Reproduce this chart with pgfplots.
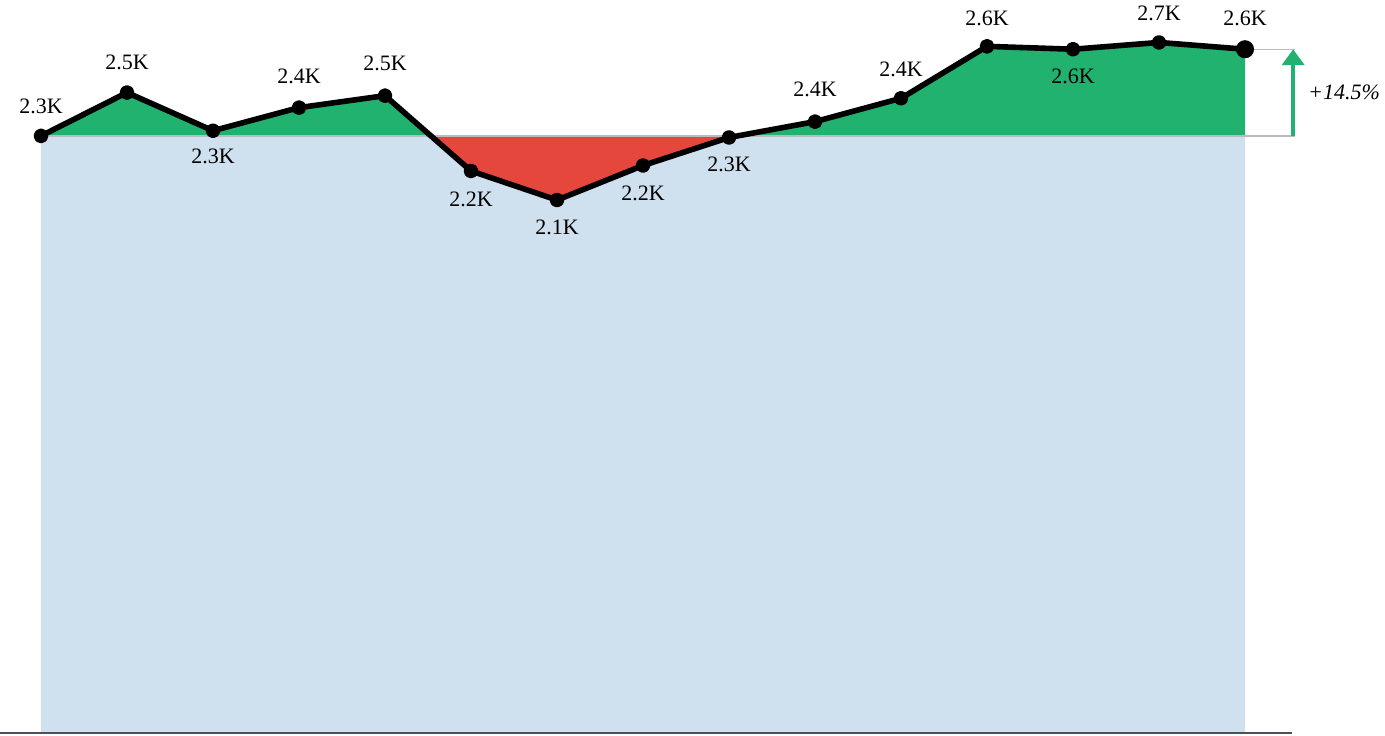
\documentclass[border=0pt]{standalone}
\usepackage{pgfplots}
\pgfplotsset{compat=1.18}
\usepackage{pgfplotstable}
\usetikzlibrary{arrows.meta}
\usepackage{fontspec}
\setmainfont{Liberation Serif}
\definecolor{cgreen}{HTML}{22B270}
\definecolor{cred}{HTML}{E6473D}
\definecolor{cblue}{HTML}{CFE0EE}
\definecolor{caxis}{HTML}{4C5157}
\definecolor{cref}{HTML}{BBBBBB}
\pgfplotstableread{
x y lab pos
0 2300 2.3K 15
1 2467 2.5K 15
2 2320 2.3K -13
3 2409 2.4K 15.5
4 2455 2.5K 16
5 2165 2.2K -14
6 2053 2.1K -13.5
7 2186 2.2K -14
8 2294 2.3K -13.5
9 2355 2.4K 16
10 2445 2.4K 14.5
11 2645 2.6K 14
12 2634 2.6K -13.5
13 2660 2.7K 14.5
14 2634 2.6K 15.5
}\data
\begin{document}
\begin{tikzpicture}
\begin{axis}[scale only axis, width=692.5pt, height=367.5pt,
  xmin=-0.4767, xmax=15.628, ymin=-7.7, ymax=2823.6,
  axis lines=none, clip=false]
\path (rel axis cs:0,0) coordinate (bl) (rel axis cs:1,1) coordinate (tr);
% red band between 0 and baseline, then blue under the line (clipped below baseline)
\addplot[fill=cred, draw=none] coordinates {(0,0)(0,2300)(14,2300)(14,0)} -- cycle;
\begin{scope}
\clip (axis cs:-1,0) rectangle (axis cs:15,2300);
\addplot[fill=cblue, draw=none] table[x=x,y=y]{\data} |- (axis cs:0,0) -- cycle;
\end{scope}
\begin{scope}
\clip (axis cs:-1,2300) rectangle (axis cs:15,3000);
\addplot[fill=cgreen, draw=none] table[x=x,y=y]{\data} |- (axis cs:0,0) -- cycle;
\end{scope}
\addplot[cref, line width=0.6pt] coordinates {(0,2300)(14.58,2300)};
\addplot[cref, line width=0.6pt] coordinates {(14,2634)(14.58,2634)};
\addplot[caxis, line width=1pt] coordinates {(-0.4767,0)(14.547,0)};
\addplot[black, line width=2.8pt, line join=round, mark=*, mark size=2.3pt,
  mark options={solid, fill=black},
  point meta=explicit symbolic,
  nodes near coords,
  visualization depends on={\thisrow{pos} \as \labpos},
  every node near coord/.append style={font=\fontsize{11}{13}\selectfont, text=black, anchor=center, yshift=\labpos pt}]
  table[x=x,y=y,meta=lab]{\data};
\addplot[only marks, mark=*, mark size=4.3pt, black] coordinates {(14,2634)};
\addplot[cgreen, line width=2pt, -{Triangle[width=11pt,length=8pt]}] coordinates {(14.56,2300)(14.56,2634)};
\node[font=\fontsize{11}{13}\selectfont\itshape, anchor=west, inner sep=0pt] at (axis cs:14.73,2469) {+14.5\%};
\end{axis}
\pgfresetboundingbox
\useasboundingbox (bl) rectangle (tr);
\end{tikzpicture}
\end{document}
